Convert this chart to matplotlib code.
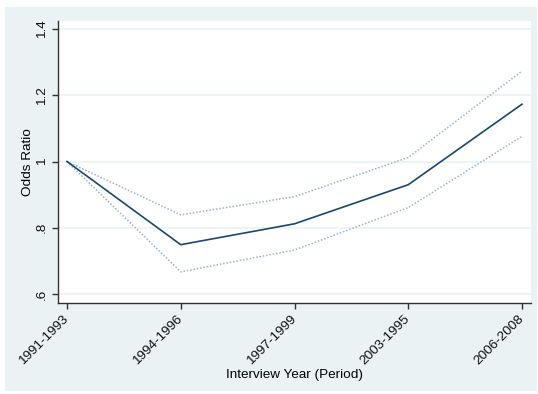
import matplotlib
matplotlib.use("Agg")
import matplotlib.pyplot as plt
from matplotlib.patches import Rectangle
from matplotlib.transforms import ScaledTranslation

periods = ["1991-1993", "1994-1996", "1997-1999", "2003-1995", "2006-2008"]
odds_ratio = [1.0, 0.749, 0.812, 0.930, 1.173]
ci_upper = [1.0, 0.839, 0.894, 1.012, 1.273]
ci_lower = [1.0, 0.667, 0.733, 0.861, 1.076]
y_ticks = [0.6, 0.8, 1.0, 1.2, 1.4]
y_tick_labels = [".6", ".8", "1", "1.2", "1.4"]

plt.rcParams["font.family"] = ["Liberation Sans", "DejaVu Sans"]

W, H = 538, 394
fig = plt.figure(figsize=(W / 100, H / 100), dpi=100)
fig.patch.set_facecolor("white")

# graph region background
bg = "#eaf2f3"
fig.add_artist(Rectangle((5 / W, 1 - 391 / H), (537 - 5) / W, (391 - 7) / H,
                         transform=fig.transFigure, facecolor=bg,
                         edgecolor="none", zorder=-10))

ax_left, ax_top, ax_right, ax_bottom = 58, 21, 531, 303
ax_w, ax_h = ax_right - ax_left, ax_bottom - ax_top
ax = fig.add_axes([ax_left / W, 1 - ax_bottom / H, ax_w / W, ax_h / H])
ax.set_facecolor("white")
ax.set_zorder(1)

x = list(range(len(periods)))
line_col = "#1a476f"
ci_col = "#9db3c8"

ax.plot(x, ci_upper, color=ci_col, lw=1.1, linestyle=(0, (1, 1.2)), zorder=3)
ax.plot(x, ci_lower, color=ci_col, lw=1.1, linestyle=(0, (1, 1.2)), zorder=3)
ax.plot(x, odds_ratio, color=line_col, lw=1.2, zorder=4)

ax.set_xlim(-0.079, 4.079)
ax.set_ylim(0.573, 1.424)

fs = 9.7
ax.set_yticks(y_ticks)
ax.set_yticklabels(y_tick_labels, rotation=90, va="center", fontsize=fs)
ax.set_xticks(x)
ax.set_xticklabels(periods, rotation=45, ha="right", va="center",
                   rotation_mode="anchor", fontsize=fs)
shift = ScaledTranslation(2 / 100, 0, fig.dpi_scale_trans)
for lbl in ax.get_xticklabels():
    lbl.set_transform(lbl.get_transform() + shift)

ax.grid(axis="y", color="#eaf2f3", lw=1.2, zorder=1)
ax.set_axisbelow(True)

for s in ["top", "right"]:
    ax.spines[s].set_visible(False)
for s in ["left", "bottom"]:
    ax.spines[s].set_color("#333333")
    ax.spines[s].set_linewidth(1.0)

ax.tick_params(axis="both", length=4, width=1.0, color="#333333", labelcolor="#111111")
ax.tick_params(axis="y", pad=3.5)
ax.tick_params(axis="x", pad=6)

ax.set_ylabel("Odds Ratio", fontsize=fs)
ax.set_xlabel("Interview Year (Period)", fontsize=fs)
ax.yaxis.set_label_coords((34 - ax_left) / ax_w, 0.5)
ax.xaxis.set_label_coords(0.5, -(369 - ax_bottom) / ax_h)

fig.savefig("out.png", dpi=100, facecolor="white")
